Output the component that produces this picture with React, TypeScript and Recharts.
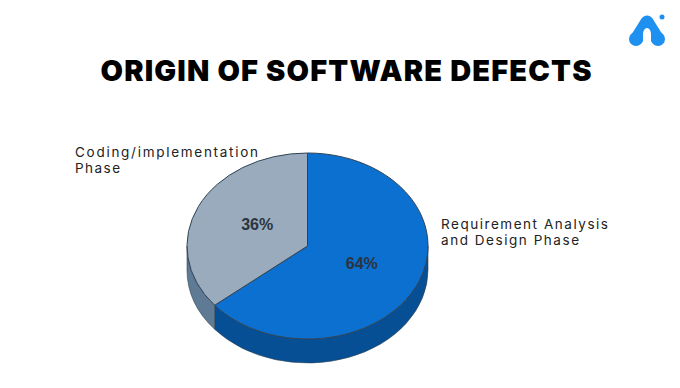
import { Cell, Pie, PieChart } from "recharts";

const phases = ["Requirement Analysis and Design Phase", "Coding/implementation Phase"];
const shares = [64, 36];
const topColors = ["#0b70cf", "#9aabbd"];
const wallColors = ["#064f94", "#5f7a94"];

const data = phases.map((name, i) => ({ name, value: shares[i] }));

const TILT = 93 / 120.5; // the pie is drawn as an ellipse, squashed by this
const DEPTH = 24;
const OUTLINE = "#2f4356";
const RAD = Math.PI / 180;

function pointAt(cx: number, cy: number, r: number, angle: number) {
  return [cx + r * Math.cos(angle * RAD), cy - r * TILT * Math.sin(angle * RAD)];
}

function TopSector({ cx, cy, outerRadius: r, startAngle, endAngle, fill }: any) {
  const [x0, y0] = pointAt(cx, cy, r, startAngle);
  const [x1, y1] = pointAt(cx, cy, r, endAngle);
  const large = Math.abs(startAngle - endAngle) > 180 ? 1 : 0;
  return (
    <path
      d={`M${cx} ${cy}L${x0} ${y0}A${r} ${r * TILT} 0 ${large} 1 ${x1} ${y1}Z`}
      fill={fill}
      stroke={OUTLINE}
      strokeWidth={1}
      strokeLinejoin="round"
    />
  );
}

// side wall: only the part of a sector on the front half of the pie shows
function WallSector({ cx, cy, outerRadius: r, startAngle, endAngle, fill }: any) {
  const from = Math.min(startAngle, 0);
  const to = Math.max(endAngle, -180);
  if (from <= to) return null;
  const [x0, y0] = pointAt(cx, cy, r, from);
  const [x1, y1] = pointAt(cx, cy, r, to);
  const ry = r * TILT;
  return (
    <path
      d={`M${x0} ${y0}A${r} ${ry} 0 0 1 ${x1} ${y1}L${x1} ${y1 + DEPTH}A${r} ${ry} 0 0 0 ${x0} ${y0 + DEPTH}Z`}
      fill={fill}
      stroke={OUTLINE}
      strokeWidth={0.6}
    />
  );
}

function shareLabel({ cx, cy, outerRadius, midAngle, value }: any) {
  const [x, y] = pointAt(cx, cy, outerRadius * 0.48, midAngle);
  return (
    <text
      x={x + 2}
      y={y - 2}
      textAnchor="middle"
      dominantBaseline="central"
      fontFamily="Liberation Sans"
      fontWeight={700}
      fontSize={16}
      fill="#2b3440"
    >
      {value}%
    </text>
  );
}

function Logo() {
  return (
    <g>
      <path d="M637 38L647 22L657 38" fill="none" stroke="#1e90f0" strokeWidth={13} strokeLinejoin="round" strokeLinecap="round" />
      <circle cx={636} cy={39} r={7} fill="#1e90f0" />
      <circle cx={658} cy={39} r={7} fill="#1e90f0" />
      <path d="M643 47V34A4 6 0 0 1 651 34V47Z" fill="#fff" />
      <circle cx={662} cy={17} r={2.5} fill="#1e90f0" />
    </g>
  );
}

const labelStyle = { fontFamily: "Inter", fontSize: 13.5, fill: "#222", lengthAdjust: "spacing" as const };

export default function App() {
  return (
    <div style={{ position: "absolute", left: 0, top: 0, width: 680, height: 388, background: "#fff" }}>
      <PieChart width={680} height={388} margin={{ top: 0, right: 0, bottom: 0, left: 0 }}>
        <text x={346} y={81} textAnchor="middle" fontFamily="Inter" fontWeight={900} fontSize={29} fill="#000" textLength={491} lengthAdjust="spacing">
          ORIGIN OF SOFTWARE DEFECTS
        </text>
        <Pie
          data={data}
          dataKey="value"
          cx={307.5}
          cy={246}
          outerRadius={120.5}
          startAngle={90}
          endAngle={-270}
          stroke="none"
          shape={WallSector}
          isAnimationActive={false}
        >
          {data.map((d, i) => (
            <Cell key={d.name} fill={wallColors[i]} />
          ))}
        </Pie>
        <Pie
          data={data}
          dataKey="value"
          cx={307.5}
          cy={246}
          outerRadius={120.5}
          startAngle={90}
          endAngle={-270}
          stroke="none"
          shape={TopSector}
          label={shareLabel}
          labelLine={false}
          isAnimationActive={false}
        >
          {data.map((d, i) => (
            <Cell key={d.name} fill={topColors[i]} />
          ))}
        </Pie>
        <text {...labelStyle} x={75} y={157} textLength={183}>Coding/implementation</text>
        <text {...labelStyle} x={75} y={173} textLength={45}>Phase</text>
        <text {...labelStyle} x={441} y={229} textLength={167}>Requirement Analysis</text>
        <text {...labelStyle} x={441} y={245} textLength={138}>and Design Phase</text>
        <Logo />
      </PieChart>
    </div>
  );
}
